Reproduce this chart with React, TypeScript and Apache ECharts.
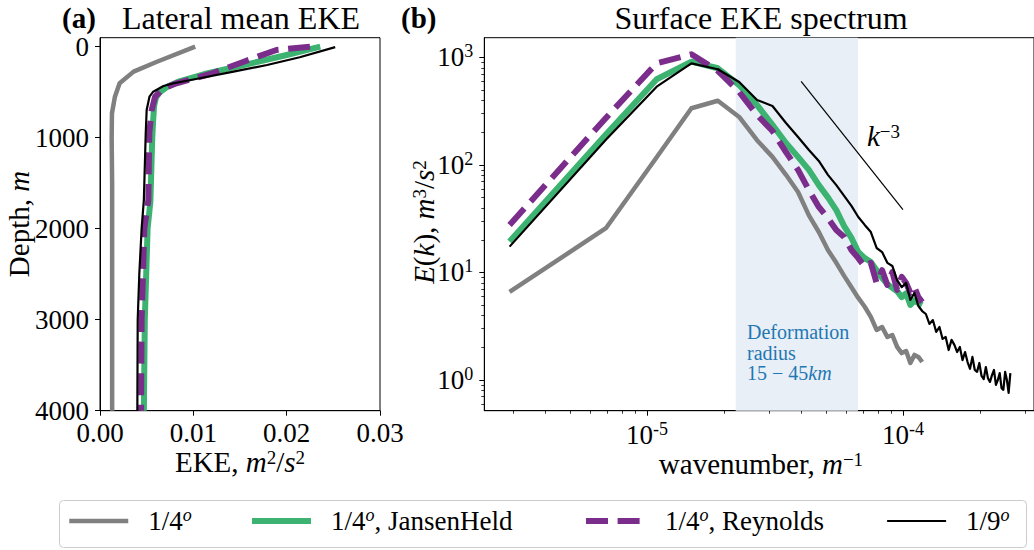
import React, { useEffect, useRef } from "react";
import * as echarts from "echarts";

const FONT = "Liberation Serif";

// ---------- Panel (a): lateral mean EKE profiles ----------
const depthQuarter = [0, 165, 274, 402, 549, 731, 1000, 1500, 2000, 3000, 4000];
const ekeQuarter = [0.0102, 0.0061, 0.0036, 0.0021, 0.0016, 0.00128, 0.00125, 0.0013, 0.0013, 0.0013, 0.0013];

const depthJansen = [0, 91, 200, 300, 380, 440, 500, 560, 650, 800, 1000, 1700, 2000, 3000, 4000];
const ekeJansen = [0.0236, 0.02, 0.0155, 0.0112, 0.0085, 0.0072, 0.0064, 0.006, 0.0058, 0.0057, 0.0056, 0.0054, 0.0051, 0.0048, 0.0047];

const depthReynolds = [0, 36, 165, 300, 402, 457, 549, 695, 951, 1683, 2000, 3000, 4000];
const ekeReynolds = [0.0225, 0.0189, 0.0154, 0.0118, 0.0082, 0.0068, 0.0059, 0.00554, 0.00528, 0.00518, 0.00475, 0.00446, 0.0044];

const depthNinth = [5, 116, 201, 274, 347, 402, 432, 494, 549, 695, 951, 1683, 2000, 2500, 3000, 4000];
const ekeNinth = [0.0252, 0.0214, 0.0179, 0.0143, 0.0107, 0.0079, 0.0068, 0.0057, 0.0053, 0.005, 0.0049, 0.0047, 0.00446, 0.00421, 0.00404, 0.004];

const depthTicks = [0, 1000, 2000, 3000, 4000];
const ekeTicks = [0, 0.01, 0.02, 0.03];

// ---------- Panel (b): surface EKE spectrum ----------
const wavenumber = [
  2.9e-6, 6.9e-6, 1.09e-5, 1.49e-5, 1.89e-5, 2.29e-5, 2.69e-5, 3.09e-5, 3.49e-5, 3.89e-5,
  4.29e-5, 4.69e-5, 5.09e-5, 5.49e-5, 5.89e-5, 6.29e-5, 6.69e-5, 7.09e-5, 7.49e-5, 7.89e-5,
  8.29e-5, 8.69e-5, 9.09e-5, 9.49e-5, 9.89e-5, 1.029e-4, 1.069e-4, 1.109e-4, 1.149e-4, 1.189e-4,
  1.229e-4, 1.269e-4, 1.309e-4, 1.349e-4, 1.389e-4, 1.429e-4, 1.469e-4, 1.509e-4, 1.549e-4, 1.589e-4,
  1.629e-4, 1.669e-4, 1.709e-4, 1.749e-4, 1.789e-4, 1.829e-4, 1.869e-4, 1.909e-4, 1.949e-4, 1.989e-4,
  2.029e-4, 2.069e-4, 2.109e-4, 2.149e-4, 2.189e-4, 2.229e-4, 2.269e-4, 2.309e-4, 2.349e-4, 2.389e-4,
  2.429e-4, 2.469e-4, 2.509e-4, 2.549e-4, 2.589e-4, 2.629e-4,
];
const specQuarter = [6.6, 25.8, 118, 337, 396, 280, 170, 119, 81, 56, 34, 23.8, 16.2, 12.3, 9.3, 7.3, 5.8, 4.8, 3.86, 2.92, 3.11, 2.51, 2.62, 2.03, 1.78, 1.86, 1.44, 1.71, 1.64, 1.47];
const specJansen = [19.4, 192, 627, 914, 794, 554, 361, 236, 160, 119, 90, 65, 50, 38, 27, 21, 15.5, 13.6, 12.5, 10.5, 8.9, 7.8, 7.2, 6.7, 5.9, 6.4, 5.0, 5.5, 5.2, 5.0];
const specReynolds = [27.7, 274, 883, 1071, 750, 478, 292, 207, 132, 90, 58.5, 40.7, 32, 24.8, 21.4, 16.2, 13.6, 11.3, 12.3, 8.0, 10.5, 7.65, 10.1, 6.9, 9.1, 8.0, 6.45, 7.3, 5.9, 5.3];
const specNinth = [
  17.4, 172, 535, 883, 777, 592, 403, 354, 246, 182, 138, 109, 81, 65, 51.5, 41.6, 32.8, 27.7, 23.8, 16.9,
  15.5, 12.3, 11.5, 8.5, 7.3, 8.0, 5.55, 6.45, 4.88, 4.38, 4.11, 3.32, 3.61, 2.8, 3.11, 2.41, 2.51, 1.9, 2.36, 2.12,
  1.82, 2.03, 1.53, 1.82, 1.47, 1.27, 1.64, 1.24, 1.19, 1.44, 1.09, 1.02, 1.32, 1.04, 0.96, 1.11, 1.24, 0.9, 1.0, 1.16,
  0.84, 0.81, 1.19, 1.0, 0.76, 1.16,
];

const slopeK = [4e-5, 1e-4];
const slopeE = [600, 38.4];
const deformationBand = [2.22e-5, 6.67e-5];

const kMajorTicks = [1e-5, 1e-4];
const kMinorTicks = [3e-6, 4e-6, 5e-6, 6e-6, 7e-6, 8e-6, 9e-6, 2e-5, 3e-5, 4e-5, 5e-5, 6e-5, 7e-5, 8e-5, 9e-5, 2e-4, 3e-4];
const eMajorTicks = [1, 10, 100, 1000];
const eMinorTicks = [0.6, 0.7, 0.8, 0.9, 2, 3, 4, 5, 6, 7, 8, 9, 20, 30, 40, 50, 60, 70, 80, 90, 200, 300, 400, 500, 600, 700, 800, 900];

const NAME_Q = "1/4°";
const NAME_J = "1/4°, JansenHeld";
const NAME_R = "1/4°, Reynolds";
const NAME_N = "1/9°";
const legendNames = [NAME_Q, NAME_J, NAME_R, NAME_N];
const legendLeft = [67, 249, 583, 886];

const STYLES: Record<string, any> = {
  [NAME_Q]: { color: "#808080", width: 4.5, type: "solid" },
  [NAME_J]: { color: "#3cb371", width: 6, type: "solid" },
  [NAME_R]: { color: "#7b2d8c", width: 6, type: [22, 9.6] },
  [NAME_N]: { color: "#000000", width: 2.2, type: "solid" },
};

const pairs = (xs: number[], ys: number[]) => xs.map((x, i) => [x, ys[i]]);

function lineSeries(name: string, xi: number, yi: number, data: number[][], extra: any = {}) {
  const s = STYLES[name];
  return {
    name,
    type: "line",
    xAxisIndex: xi,
    yAxisIndex: yi,
    data,
    symbol: "none",
    showSymbol: false,
    silent: true,
    lineStyle: { color: s.color, width: s.width, type: s.type, cap: "butt", join: "round" },
    itemStyle: { color: s.color },
    ...extra,
  };
}

const txt = (size: number, style: string = "normal", extra: any = {}) => ({
  fontSize: size,
  fontFamily: FONT,
  fontStyle: style,
  fill: "#000",
  ...extra,
});

const mathRich = {
  n: txt(29, "normal", { lineHeight: 28 }),
  i: txt(29, "italic", { lineHeight: 28 }),
  s: txt(19, "normal", { lineHeight: 16, verticalAlign: "top" }),
};

const tickLabelRich = {
  b: { fontSize: 27, fontFamily: FONT, color: "#000", lineHeight: 30 },
  s: { fontSize: 18, fontFamily: FONT, color: "#000", lineHeight: 18, verticalAlign: "top" },
};
const powLabel = (v: number) => `{b|10}{s|${Math.round(Math.log10(v))}}`;

const axisCommon = {
  splitLine: { show: false },
  axisLine: { show: true, onZero: false, lineStyle: { color: "#000", width: 1 } },
};

const deformationLines = ["{a|Deformation}", "{a|radius}", "{a|15 − 45}{b|km}"];

export default function App() {
  const ref = useRef<HTMLDivElement>(null);
  useEffect(() => {
    if (!ref.current) return;
    const chart = echarts.init(ref.current, null, { renderer: "svg" });
    const legends = legendNames.map((name, i) => ({
      data: [name],
      left: legendLeft[i],
      top: 506,
      padding: 0,
      itemWidth: 59,
      itemHeight: 14,
      z: 10,
      selectedMode: false,
      itemStyle: { opacity: 0 },
      lineStyle: { width: "inherit", opacity: 1 },
      textStyle: {
        padding: [0, 0, 0, 15],
        fontFamily: FONT,
        rich: {
          n: { fontSize: 27, fontFamily: FONT, color: "#000", lineHeight: 30 },
          o: { fontSize: 18, fontFamily: FONT, fontStyle: "italic", color: "#000", lineHeight: 18, verticalAlign: "top" },
        },
      },
      formatter: (nm: string) => {
        const parts = nm.split("°");
        return `{n|${parts[0]}}{o|o}` + (parts[1] ? `{n|${parts[1]}}` : "");
      },
    }));

    const option: any = {
      animation: false,
      backgroundColor: "#fff",
      textStyle: { fontFamily: FONT },
      grid: [
        { left: 100, top: 37.7, width: 280, height: 373, show: true, borderColor: "#000", borderWidth: 1, backgroundColor: "transparent" },
        { left: 484.3, top: 37.7, width: 553.7, height: 373, show: true, borderColor: "#000", borderWidth: 1, backgroundColor: "transparent" },
      ],
      legend: legends,
      xAxis: [
        {
          type: "value", gridIndex: 0, min: 0, max: 0.03, ...axisCommon,
          axisTick: { show: true, length: 5, customValues: ekeTicks, lineStyle: { color: "#000", width: 1 } },
          axisLabel: { customValues: ekeTicks, margin: 9, fontSize: 27, fontFamily: FONT, color: "#000", formatter: (v: number) => v.toFixed(2) },
        },
        {
          type: "log", logBase: 10, gridIndex: 1, min: 2.31e-6, max: 3.253e-4, ...axisCommon,
          axisTick: { show: true, length: 5, customValues: kMajorTicks, lineStyle: { color: "#000", width: 1 } },
          axisLabel: { customValues: kMajorTicks, margin: 9, fontFamily: FONT, formatter: powLabel, rich: tickLabelRich },
        },
        {
          type: "log", logBase: 10, gridIndex: 1, min: 2.31e-6, max: 3.253e-4, position: "bottom",
          splitLine: { show: false }, axisLine: { show: false, onZero: false }, axisLabel: { show: false },
          axisTick: { show: true, length: 3, customValues: kMinorTicks, lineStyle: { color: "#000", width: 0.8 } },
        },
      ],
      yAxis: [
        {
          type: "value", gridIndex: 0, inverse: true, min: -99, max: 4000, ...axisCommon,
          axisTick: { show: true, length: 5, customValues: depthTicks, lineStyle: { color: "#000", width: 1 } },
          axisLabel: { customValues: depthTicks, margin: 11, fontSize: 27, fontFamily: FONT, color: "#000", formatter: (v: number) => String(v) },
        },
        {
          type: "log", logBase: 10, gridIndex: 1, min: 0.518, max: 1528, ...axisCommon,
          axisTick: { show: true, length: 5, customValues: eMajorTicks, lineStyle: { color: "#000", width: 1 } },
          axisLabel: { customValues: eMajorTicks, margin: 11, fontFamily: FONT, formatter: powLabel, rich: tickLabelRich },
        },
        {
          type: "log", logBase: 10, gridIndex: 1, min: 0.518, max: 1528, position: "left",
          splitLine: { show: false }, axisLine: { show: false, onZero: false }, axisLabel: { show: false },
          axisTick: { show: true, length: 3, customValues: eMinorTicks, lineStyle: { color: "#000", width: 0.8 } },
        },
      ],
      series: [
        lineSeries(NAME_Q, 0, 0, pairs(ekeQuarter, depthQuarter)),
        lineSeries(NAME_J, 0, 0, pairs(ekeJansen, depthJansen)),
        lineSeries(NAME_R, 0, 0, pairs(ekeReynolds, depthReynolds)),
        lineSeries(NAME_N, 0, 0, pairs(ekeNinth, depthNinth)),
        lineSeries(NAME_Q, 1, 1, pairs(wavenumber.slice(0, specQuarter.length), specQuarter), {
          markArea: {
            silent: true,
            z: 1,
            itemStyle: { color: "#e8eff6", borderWidth: 0 },
            data: [[{ xAxis: deformationBand[0] }, { xAxis: deformationBand[1] }]],
          },
        }),
        lineSeries(NAME_J, 1, 1, pairs(wavenumber.slice(0, specJansen.length), specJansen)),
        lineSeries(NAME_R, 1, 1, pairs(wavenumber.slice(0, specReynolds.length), specReynolds)),
        lineSeries(NAME_N, 1, 1, pairs(wavenumber.slice(0, specNinth.length), specNinth)),
        {
          name: "k^-3",
          type: "line",
          xAxisIndex: 1,
          yAxisIndex: 1,
          data: pairs(slopeK, slopeE),
          symbol: "none",
          silent: true,
          lineStyle: { color: "#000", width: 1.2 },
        },
      ],
      graphic: [
        {
          type: "rect", z: 0, shape: { x: 59.5, y: 500.5, width: 967, height: 47, r: 4 },
          style: { fill: "#fff", stroke: "#cccccc", lineWidth: 1 },
        },
        { type: "text", x: 62, y: 18, style: { text: "(a)", ...txt(29, "normal", { fontWeight: "bold", lineHeight: 28 }), align: "left", verticalAlign: "middle" } },
        { type: "text", x: 241, y: 18, style: { text: "Lateral mean EKE", ...txt(32, "normal", { lineHeight: 28 }), align: "center", verticalAlign: "middle" } },
        { type: "text", x: 401, y: 18, style: { text: "(b)", ...txt(29, "normal", { fontWeight: "bold", lineHeight: 28 }), align: "left", verticalAlign: "middle" } },
        { type: "text", x: 761, y: 18, style: { text: "Surface EKE spectrum", ...txt(32, "normal", { lineHeight: 28 }), align: "center", verticalAlign: "middle" } },
        {
          type: "text", x: 240, y: 462,
          style: { text: "{n|EKE, }{i|m}{s|2}{n|/}{i|s}{s|2}", align: "center", verticalAlign: "middle", rich: mathRich },
        },
        {
          type: "text", x: 761, y: 464,
          style: { text: "{n|wavenumber, }{i|m}{s|−1}", align: "center", verticalAlign: "middle", rich: mathRich },
        },
        {
          type: "text", x: 19, y: 224, rotation: Math.PI / 2,
          style: { text: "{n|Depth, }{i|m}", align: "center", verticalAlign: "middle", rich: mathRich },
        },
        {
          type: "text", x: 424, y: 222, rotation: Math.PI / 2,
          style: { text: "{i|E}{n|(}{i|k}{n|), }{i|m}{s|3}{n|/}{i|s}{s|2}", align: "center", verticalAlign: "middle", rich: mathRich },
        },
        {
          type: "text", x: 867, y: 136, z: 5,
          style: { text: "{i|k}{s|−3}", align: "left", verticalAlign: "middle", rich: mathRich },
        },
        ...deformationLines.map((line, i) => ({
          type: "text", x: 747, y: 332 + i * 20.5, z: 5,
          style: {
            text: line, align: "left", verticalAlign: "middle",
            rich: {
              a: txt(20, "normal", { fill: "#1f77b4", lineHeight: 19 }),
              b: txt(20, "italic", { fill: "#1f77b4", lineHeight: 19 }),
            },
          },
        })),
      ],
    };
    chart.setOption(option);
    return () => chart.dispose();
  }, []);
  return <div ref={ref} style={{ position: "absolute", left: 0, top: 0, width: 1034, height: 550 }} />;
}
